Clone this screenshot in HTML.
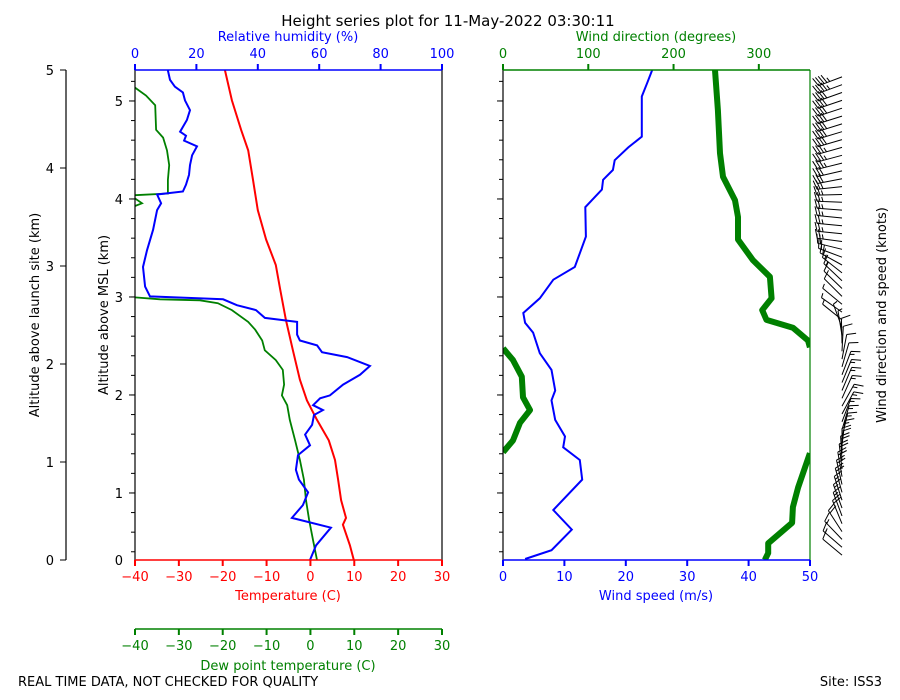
<!DOCTYPE html>
<html><head><meta charset="utf-8"><style>
html,body{margin:0;padding:0;background:#fff}
svg{display:block;font-family:"DejaVu Sans","Liberation Sans",sans-serif}
</style></head><body>
<svg id="chart" width="900" height="700" viewBox="0 0 900 700" xmlns="http://www.w3.org/2000/svg">
<defs>
<clipPath id="clipL"><rect x="135" y="70" width="307" height="490"/></clipPath>
<clipPath id="clipR"><rect x="503" y="70" width="307" height="490"/></clipPath>
</defs>
<text x="448" y="26" font-size="15" text-anchor="middle">Height series plot for 11-May-2022 03:30:11</text>
<text x="288" y="41" font-size="13" fill="blue" text-anchor="middle">Relative humidity (%)</text>
<text x="656" y="41" font-size="13" fill="green" text-anchor="middle">Wind direction (degrees)</text>
<text x="288" y="600" font-size="13" fill="red" text-anchor="middle">Temperature (C)</text>
<text x="288" y="670" font-size="13" fill="green" text-anchor="middle">Dew point temperature (C)</text>
<text x="656" y="600" font-size="13" fill="blue" text-anchor="middle">Wind speed (m/s)</text>
<text x="0" y="0" font-size="13" text-anchor="middle" transform="translate(39,315) rotate(-90)">Altitude above launch site (km)</text>
<text x="0" y="0" font-size="13" text-anchor="middle" transform="translate(108,315) rotate(-90)">Altitude above MSL (km)</text>
<text x="0" y="0" font-size="13" text-anchor="middle" transform="translate(886,315) rotate(-90)">Wind direction and speed (knots)</text>
<text x="18" y="686" font-size="13">REAL TIME DATA, NOT CHECKED FOR QUALITY</text>
<text x="882" y="686" font-size="13" text-anchor="end">Site: ISS3</text>
<g id="g"></g>
</svg>
<script>
// ---- data (altitude above launch site, km) ----
const tempAlt = [5.00,4.69,4.39,4.18,3.88,3.57,3.27,3.01,2.76,2.45,2.14,1.84,1.63,1.43,1.22,1.02,0.82,0.61,0.43,0.36,0.15,0.00];
const tempVals = [-19.5,-17.9,-15.8,-14.2,-13.1,-12.0,-10.1,-7.9,-6.9,-5.6,-4.0,-2.4,-0.8,1.5,4.2,5.6,6.3,7.0,8.1,7.4,9.0,9.9];
const dewAlt = [4.82,4.74,4.64,4.39,4.31,4.18,4.03,3.88,3.74,3.72,3.64,3.60,3.55,2.70,2.68,2.66,2.65,2.62,2.55,2.43,2.35,2.24,2.14,2.04,1.94,1.79,1.68,1.58,1.43,1.22,1.02,0.82,0.61,0.41,0.20,0.00];
const dewVals = [-40,-37.5,-35.4,-35.2,-33.6,-32.7,-32.2,-32.5,-32.5,-41,-38.4,-40.7,-50,-50,-40,-34.3,-25.2,-21.1,-17.9,-14.2,-12.6,-11.0,-10.4,-7.9,-6.3,-6.0,-6.5,-5.3,-4.7,-3.5,-2.4,-1.5,-1.0,-0.3,0.6,1.5];
const rhAlt = [5.00,4.90,4.83,4.77,4.69,4.59,4.49,4.37,4.33,4.28,4.22,4.13,4.03,3.93,3.83,3.76,3.73,3.64,3.57,3.37,3.16,2.99,2.79,2.69,2.66,2.60,2.55,2.47,2.43,2.30,2.24,2.19,2.12,2.07,1.98,1.89,1.79,1.68,1.65,1.58,1.53,1.48,1.38,1.28,1.17,1.07,0.92,0.82,0.69,0.56,0.43,0.33,0.15,0.00];
const rhVals = [10.7,11.4,13.0,15.6,16.3,17.9,16.9,14.7,16.6,16.0,20.2,18.6,17.9,17.6,16.6,15.6,7.2,8.5,7.2,5.9,3.9,2.6,3.3,4.9,28.7,33.2,39.4,42.3,52.8,52.8,53.7,59.3,60.9,69.1,76.5,73.3,67.8,63.5,60.3,58.0,61.2,58.3,57.7,55.4,57.0,53.1,52.4,53.4,56.4,54.7,51.1,63.8,59.0,57.0];
const spdAlt = [5.00,4.87,4.73,4.32,4.21,4.08,3.98,3.88,3.78,3.60,3.30,3.13,2.99,2.86,2.67,2.52,2.42,2.32,2.11,1.94,1.73,1.63,1.43,1.26,1.15,1.02,0.82,0.51,0.31,0.10,0.01];
const spdVals = [24.3,23.5,22.6,22.6,20.4,18.2,17.9,16.3,16.1,13.4,13.5,12.5,11.7,8.2,6.0,3.3,3.6,4.9,6.0,7.9,8.5,7.9,8.5,10.1,9.8,12.5,12.9,8.2,11.2,7.9,3.6];
const dirAlt = [5.00,4.59,4.15,3.91,3.67,3.50,3.27,3.06,2.89,2.67,2.55,2.45,2.37,2.24,2.17,2.16,2.04,1.87,1.66,1.53,1.40,1.22,1.10,1.09,0.74,0.54,0.38,0.17,0.07,0.00];
const dirVals = [248.6,252,254.5,258,272,275.6,275.6,293,313,315,304,309,340,357.6,359.9,0.1,11.7,22,23.4,31.7,19.9,11.7,0.1,359.9,346,340,339,311,311,307];
const tempTicks = [-40,-30,-20,-10,0,10,20,30];
const rhTicks = [0,20,40,60,80,100];
const spdTicks = [0,10,20,30,40,50];
const dirTicks = [0,100,200,300];
const altTicks = [0,1,2,3,4,5];
const mslTicks = [1,2,3,4,5];
const mslOffset = 0.316;

// ---- scales ----
const yA = h => 560 - h*98;
const xT = t => 135 + (t+40)*307/70;
const xRH = r => 135 + r*3.07;
const xS = s => 503 + s*6.14;
const xD = d => 503 + d*307/360;
const NS = "http://www.w3.org/2000/svg";
const g = document.getElementById('g');
function el(tag, attrs, parent){const e=document.createElementNS(NS,tag);for(const k in attrs)e.setAttribute(k,attrs[k]);(parent||g).appendChild(e);return e;}
function line(x1,y1,x2,y2,c,w){return el('line',{x1,y1,x2,y2,stroke:c,'stroke-width':w||1});}
function txt(x,y,s,c,anchor){const t=el('text',{x,y,'font-size':13,fill:c,'text-anchor':anchor||'middle'});t.textContent=s;return t;}
function pathD(alts, vals, xf){return alts.map((h,i)=>(i?'L':'M')+xf(vals[i]).toFixed(1)+','+yA(h).toFixed(1)).join('');}

// series
let p;
p = el('path',{d:pathD(tempAlt,tempVals,xT),fill:'none',stroke:'red','stroke-width':2,'clip-path':'url(#clipL)'});


p = el('path',{d:pathD(dewAlt,dewVals,xT),fill:'none',stroke:'green','stroke-width':1.8,'clip-path':'url(#clipL)'});


p = el('path',{d:pathD(rhAlt,rhVals,xRH),fill:'none',stroke:'blue','stroke-width':2,'clip-path':'url(#clipL)'});


p = el('path',{d:pathD(spdAlt,spdVals,xS),fill:'none',stroke:'blue','stroke-width':2,'clip-path':'url(#clipR)'});


let dd='';
dirAlt.forEach((h,i)=>{const brk=i===0||Math.abs(dirVals[i]-dirVals[i-1])>180;dd+=(brk?'M':'L')+xD(dirVals[i]).toFixed(1)+','+yA(h).toFixed(1);});
p = el('path',{d:dd,fill:'none',stroke:'green','stroke-width':6,'stroke-linejoin':'round','clip-path':'url(#clipR)'});



// spines
line(135,70,135,560,'black',1.2);
line(442,70,442,560,'black',1.2);
line(135,70,442,70,'blue',1.5);
line(135,560,442,560,'red',1.5);
line(503,70,503,560,'black',1.2);
line(810,70,810,560,'green',1.2);
line(503,70,810,70,'green',1.5);
line(503,560,810,560,'blue',1.5);
line(66,70,66,560,'black',1.2);
line(135,629,442,629,'green',1.5);

// ticks
tempTicks.forEach(v=>{const x=xT(v);line(x,560,x,566,'red',2);txt(x,581,String(v).replace('-','\u2212'),'red');
 line(x,629,x,635,'green',2);txt(x,650,String(v).replace('-','\u2212'),'green');});
rhTicks.forEach(v=>{const x=xRH(v);line(x,64,x,70,'blue',2);txt(x,58,v,'blue');});
spdTicks.forEach(v=>{const x=xS(v);line(x,560,x,566,'blue',2);txt(x,581,v,'blue');});
dirTicks.forEach(v=>{const x=xD(v);line(x,64,x,70,'green',2);txt(x,58,v,'green');});
altTicks.forEach(v=>{const y=yA(v);line(60,y,66,y,'black',1);txt(54,y+5,v,'black','end');});
mslTicks.forEach(v=>{const y=yA(v-mslOffset);line(129,y,135,y,'black',1);line(497,y,503,y,'black',1);txt(123,y+5,v,'black','end');});
txt(123,565,'0','black','end');
for(let m=0.2;m<5.4;m+=0.2){const h=m-mslOffset;if(h<0||h>5)continue;const y=yA(h);line(131,y,135,y,'black',1);line(499,y,503,y,'black',1);}

// wind barbs
function interp(alts,vals,h){for(let i=0;i<alts.length-1;i++){const a=alts[i],b=alts[i+1];if((h<=a&&h>=b)){const t=(a-h)/(a-b||1);let v0=vals[i],v1=vals[i+1];if(Math.abs(v1-v0)>180){v1+= v1<v0?360:-360;}return v0+(v1-v0)*t;}}return vals[vals.length-1];}
const bg = el('g',{});


for(let h=0.05;h<=4.95;h+=0.08){
 const d=interp(dirAlt,dirVals,h)*Math.PI/180;const s=interp(spdAlt,spdVals,h)*1.944;
 const bx=842,by=yA(h);const L=25;const ux=Math.sin(d),uy=-Math.cos(d);
 const tx=bx+ux*L,ty=by+uy*L;
 let path='M'+bx+','+by.toFixed(1)+'L'+tx.toFixed(1)+','+ty.toFixed(1);
 const px=-uy,py=ux; let n=Math.min(5,Math.floor(s/10)); let half=(s%10)>=5;
 for(let k=0;k<n;k++){const sx=tx-ux*k*3,sy=ty-uy*k*3;path+='M'+sx.toFixed(1)+','+sy.toFixed(1)+'l'+((px*9+ux*3)).toFixed(1)+','+((py*9+uy*3)).toFixed(1);}
 if(half){const sx=tx-ux*n*3,sy=ty-uy*n*3;path+='M'+sx.toFixed(1)+','+sy.toFixed(1)+'l'+((px*4.5+ux*1.5)).toFixed(1)+','+((py*4.5+uy*1.5)).toFixed(1);}
 el('path',{d:path,fill:'none',stroke:'black','stroke-width':1},bg);
}
</script>
</body></html>
